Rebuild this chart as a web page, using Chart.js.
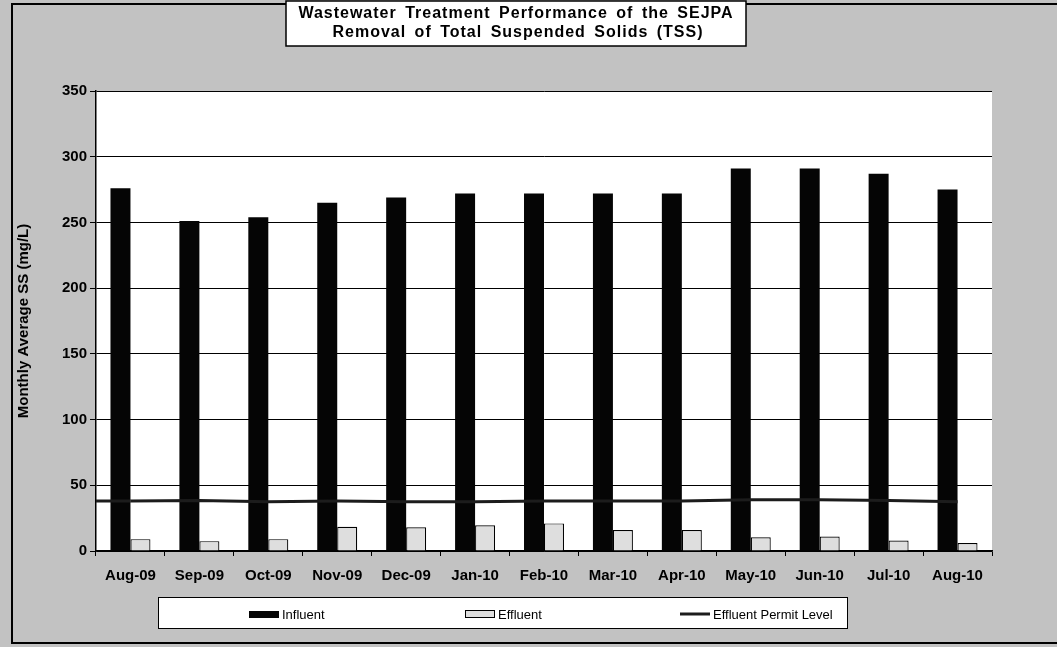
<!DOCTYPE html>
<html>
<head>
<meta charset="utf-8">
<script src="https://cdn.jsdelivr.net/npm/chart.js@4.4.1/dist/chart.umd.min.js"></script>
<style>
    html, body { margin: 0; padding: 0; background: #c2c2c2; }
    #wrap { width: 1057px; height: 647px; }
</style>
</head>
<body>
<div id="wrap"><canvas id="tssChart" width="1057" height="647"></canvas></div>
<script>
// chart data
var months = ['Aug-09', 'Sep-09', 'Oct-09', 'Nov-09', 'Dec-09', 'Jan-10', 'Feb-10',
              'Mar-10', 'Apr-10', 'May-10', 'Jun-10', 'Jul-10', 'Aug-10'];
var influent = [276, 251, 254, 265, 269, 272, 272, 272, 272, 291, 291, 287, 275];
var effluent = [9, 7.5, 9, 18.5, 18, 19.5, 21, 16, 16, 10.5, 11, 8, 6];
var permitLevel = [38, 38.5, 37.5, 38, 37.5, 37.5, 38, 38, 38, 39, 39, 38.5, 37.5];
var yTickValues = [0, 50, 100, 150, 200, 250, 300, 350];
var titleLines = ['Wastewater Treatment Performance of the SEJPA',
                  'Removal of Total Suspended Solids (TSS)'];

var FONT = '"Liberation Sans", Arial, Helvetica, sans-serif';

// gray page, white plot area and the outer frame
var backdrop = {
    id: 'backdrop',
    beforeDraw: function (chart) {
        var c = chart.ctx, a = chart.chartArea;
        c.save();
        c.fillStyle = '#c2c2c2';
        c.fillRect(0, 0, chart.width, chart.height);
        c.fillStyle = '#ffffff';
        c.fillRect(a.left, a.top, a.right - a.left, a.bottom - a.top);
        c.strokeStyle = '#000';
        c.lineWidth = 2;
        c.strokeRect(12, 4, chart.width, 639);
        c.restore();
    }
};

// the permit line in the original starts at the left edge of the plot
var permitLead = {
    id: 'permitLead',
    afterDatasetsDraw: function (chart) {
        var meta = chart.getDatasetMeta(2);
        if (!meta || !meta.data.length) return;
        var first = meta.data[0];
        var ds = chart.data.datasets[2];
        var c = chart.ctx;
        c.save();
        c.strokeStyle = ds.borderColor;
        c.lineWidth = ds.borderWidth;
        c.beginPath();
        c.moveTo(chart.chartArea.left, first.y);
        c.lineTo(first.x, first.y);
        c.stroke();
        c.restore();
    }
};

// boxed title and boxed legend at the bottom
var decorations = {
    id: 'decorations',
    afterDraw: function (chart) {
        var c = chart.ctx;
        c.save();
        // title box
        c.fillStyle = '#fff';
        c.fillRect(286, 1, 460, 45);
        c.strokeStyle = '#000';
        c.lineWidth = 1.5;
        c.strokeRect(286, 1, 460, 45);
        c.fillStyle = '#000';
        c.font = 'bold 16px ' + FONT;
        c.letterSpacing = '1px';
        c.wordSpacing = '3px';
        c.textAlign = 'center';
        c.textBaseline = 'middle';
        c.fillText(titleLines[0], 516, 14);
        c.fillText(titleLines[1], 518, 33);
        c.letterSpacing = '0px';
        c.wordSpacing = '0px';

        // legend box
        c.fillStyle = '#fff';
        c.fillRect(158, 597, 690, 31);
        c.lineWidth = 1;
        c.strokeRect(158.5, 597.5, 689, 31);

        var ds = chart.data.datasets;
        var xs = [249, 465, 680];
        var y = 614;
        c.font = '13px ' + FONT;
        c.textAlign = 'left';
        ds.forEach(function (d, i) {
            var x = xs[i];
            if (d.type === 'line') {
                c.strokeStyle = d.borderColor;
                c.lineWidth = 3;
                c.beginPath();
                c.moveTo(x, y);
                c.lineTo(x + 30, y);
                c.stroke();
            } else {
                c.fillStyle = d.backgroundColor;
                c.fillRect(x, y - 3, 30, 7);
                if (d.borderWidth) {
                    c.strokeStyle = d.borderColor;
                    c.lineWidth = 1;
                    c.strokeRect(x + 0.5, y - 3.5, 29, 7);
                }
            }
            c.fillStyle = '#000';
            c.fillText(d.label, x + 33, y + 1);
        });
        c.restore();
    }
};

var ctx = document.getElementById('tssChart').getContext('2d');

var myChart = new Chart(ctx, {
    type: 'bar',
    data: {
        labels: months,
        datasets: [{
            label: 'Influent',
            data: influent,
            backgroundColor: '#050505',
            borderWidth: 0,
            order: 1
        }, {
            label: 'Effluent',
            data: effluent,
            backgroundColor: '#dedede',
            borderColor: '#000',
            borderWidth: 1.2,
            order: 1
        }, {
            type: 'line',
            label: 'Effluent Permit Level',
            data: permitLevel,
            borderColor: '#1c1c1c',
            borderWidth: 3,
            pointRadius: 0,
            tension: 0,
            order: 0
        }]
    },
    options: {
        responsive: false,
        devicePixelRatio: 1,
        animation: false,
        layout: { padding: { left: 0, top: 91, right: 65, bottom: 0 } },
        datasets: {
            bar: { categoryPercentage: 0.58, barPercentage: 1.0 }
        },
        plugins: {
            legend: { display: false },
            title: { display: false },
            tooltip: { enabled: false }
        },
        scales: {
            x: {
                afterFit: function (scale) { scale.height = 96; },
                grid: { drawOnChartArea: false, drawTicks: true, tickLength: 5, color: '#000' },
                border: { display: true, color: '#000', width: 1.5 },
                ticks: {
                    color: '#000',
                    font: { family: FONT, size: 15, weight: 'bold' },
                    padding: 11,
                    maxRotation: 0,
                    autoSkip: false
                }
            },
            y: {
                min: 0,
                max: 350,
                afterFit: function (scale) { scale.width = 96; },
                afterBuildTicks: function (scale) {
                    scale.ticks = yTickValues.map(function (v) { return { value: v }; });
                },
                grid: { color: '#000', lineWidth: 1, tickLength: 6, drawTicks: true },
                border: { display: true, color: '#000', width: 1.5 },
                ticks: {
                    color: '#000',
                    font: { family: FONT, size: 15, weight: 'bold' },
                    padding: 3
                },
                title: {
                    display: true,
                    text: 'Monthly Average SS (mg/L)',
                    color: '#000',
                    font: { family: FONT, size: 15, weight: 'bold' },
                    padding: { top: 15, bottom: 0 }
                }
            }
        }
    },
    plugins: [backdrop, permitLead, decorations]
});
</script>
</body>
</html>
